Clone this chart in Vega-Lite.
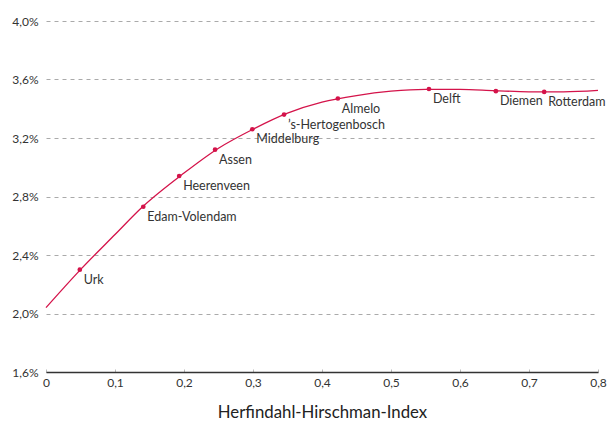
{
  "$schema": "https://vega.github.io/schema/vega-lite/v6.json",
  "width": 552,
  "height": 351,
  "autosize": {"type": "none"},
  "padding": {"left": 46, "top": 21, "right": 9, "bottom": 54},
  "background": "white",
  "config": {
    "view": {"stroke": null},
    "font": "Lato",
    "axis": {"labelFont": "Lato", "titleFont": "Lato", "labelColor": "#333", "titleColor": "#222"}
  },
  "datasets": {
    "curve": [
      {"hhi": 0.0, "r": 2.04},
      {"hhi": 0.05, "r": 2.30},
      {"hhi": 0.1, "r": 2.54},
      {"hhi": 0.14, "r": 2.73},
      {"hhi": 0.2, "r": 2.96},
      {"hhi": 0.25, "r": 3.13},
      {"hhi": 0.3, "r": 3.26},
      {"hhi": 0.35, "r": 3.37},
      {"hhi": 0.4, "r": 3.445},
      {"hhi": 0.45, "r": 3.49},
      {"hhi": 0.5, "r": 3.52},
      {"hhi": 0.55, "r": 3.533},
      {"hhi": 0.6, "r": 3.533},
      {"hhi": 0.65, "r": 3.524},
      {"hhi": 0.7, "r": 3.516},
      {"hhi": 0.75, "r": 3.515},
      {"hhi": 0.8, "r": 3.525}
    ],
    "points": [
      {"name": "Urk", "hhi": 0.049, "r": 2.30},
      {"name": "Edam-Volendam", "hhi": 0.141, "r": 2.73},
      {"name": "Heerenveen", "hhi": 0.193, "r": 2.94},
      {"name": "Assen", "hhi": 0.245, "r": 3.12},
      {"name": "Middelburg", "hhi": 0.299, "r": 3.26},
      {"name": "’s-Hertogenbosch", "hhi": 0.345, "r": 3.36},
      {"name": "Almelo", "hhi": 0.423, "r": 3.47},
      {"name": "Delft", "hhi": 0.555, "r": 3.535},
      {"name": "Diemen", "hhi": 0.652, "r": 3.52},
      {"name": "Rotterdam", "hhi": 0.722, "r": 3.515}
    ]
  },
  "layer": [
    {
      "data": {"name": "curve"},
      "mark": {"type": "line", "interpolate": "monotone", "color": "#d4134a", "strokeWidth": 1.3},
      "encoding": {
        "x": {
          "field": "hhi", "type": "quantitative",
          "scale": {"domain": [0, 0.8], "nice": false},
          "axis": {
            "values": [0, 0.1, 0.2, 0.3, 0.4, 0.5, 0.6, 0.7, 0.8],
            "labelExpr": "datum.value == 0 ? '0' : replace(format(datum.value, '.1f'), '.', ',')",
            "labelFlush": false,
            "grid": false,
            "domainColor": "#333",
            "domainWidth": 1.5,
            "tickColor": "#bbb",
            "tickSize": -3,
            "labelFontSize": 12,
            "labelPadding": 8,
            "title": "Herfindahl-Hirschman-Index",
            "titleFontSize": 16.8,
            "titleFontWeight": "normal",
            "titlePadding": 16
          }
        },
        "y": {
          "field": "r", "type": "quantitative",
          "scale": {"domain": [1.6, 4.0], "nice": false, "zero": false},
          "axis": {
            "values": [1.6, 2.0, 2.4, 2.8, 3.2, 3.6, 4.0],
            "labelExpr": "replace(format(datum.value, '.1f'), '.', ',') + '%'",
            "domain": false,
            "ticks": false,
            "labelPadding": 8,
            "labelFontSize": 12,
            "gridColor": "#aaa",
            "gridDash": [4, 4],
            "gridWidth": 1,
            "title": null
          }
        }
      }
    },
    {
      "data": {"name": "points"},
      "mark": {"type": "circle", "color": "#d4134a", "opacity": 1, "size": 22},
      "encoding": {
        "x": {"field": "hhi", "type": "quantitative"},
        "y": {"field": "r", "type": "quantitative"}
      }
    },
    {
      "data": {"name": "points"},
      "mark": {"type": "text", "align": "left", "baseline": "top", "dx": 4, "dy": 4, "fontSize": 12.5, "color": "#333"},
      "encoding": {
        "x": {"field": "hhi", "type": "quantitative"},
        "y": {"field": "r", "type": "quantitative"},
        "text": {"field": "name"}
      }
    }
  ]
}
